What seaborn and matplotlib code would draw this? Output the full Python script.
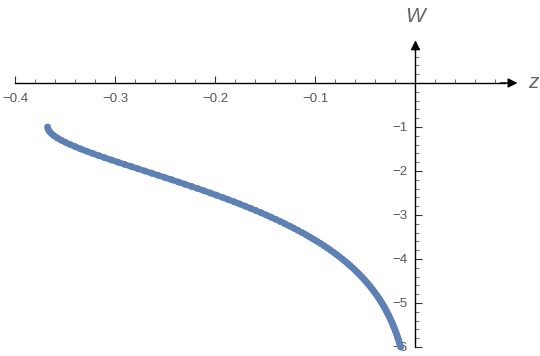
import matplotlib
matplotlib.use("Agg")
import matplotlib.pyplot as plt
from matplotlib.ticker import FixedLocator
import seaborn as sns
import pandas as pd

# Data: branch W_{-1}, points (z, W)
w_values = [-1.00, -1.05, -1.10, -1.15, -1.20, -1.25, -1.30, -1.35, -1.40, -1.45,
            -1.50, -1.55, -1.60, -1.65, -1.70, -1.75, -1.80, -1.85, -1.90, -1.95,
            -2.00, -2.05, -2.10, -2.15, -2.20, -2.25, -2.30, -2.35, -2.40, -2.45,
            -2.50, -2.55, -2.60, -2.65, -2.70, -2.75, -2.80, -2.85, -2.90, -2.95,
            -3.00, -3.05, -3.10, -3.15, -3.20, -3.25, -3.30, -3.35, -3.40, -3.45,
            -3.50, -3.55, -3.60, -3.65, -3.70, -3.75, -3.80, -3.85, -3.90, -3.95,
            -4.00, -4.05, -4.10, -4.15, -4.20, -4.25, -4.30, -4.35, -4.40, -4.45,
            -4.50, -4.55, -4.60, -4.65, -4.70, -4.75, -4.80, -4.85, -4.90, -4.95,
            -5.00, -5.05, -5.10, -5.15, -5.20, -5.25, -5.30, -5.35, -5.40, -5.45,
            -5.50, -5.55, -5.60, -5.65, -5.70, -5.75, -5.80, -5.85, -5.90, -5.95,
            -6.00]
z_values = [-0.36788, -0.36743, -0.36616, -0.36413, -0.36143, -0.35813, -0.35429, -0.34997, -0.34524, -0.34013,
            -0.33470, -0.32898, -0.32304, -0.31688, -0.31056, -0.30411, -0.29754, -0.29089, -0.28418, -0.27743,
            -0.27067, -0.26391, -0.25716, -0.25044, -0.24377, -0.23715, -0.23060, -0.22412, -0.21772, -0.21142,
            -0.20521, -0.19911, -0.19311, -0.18723, -0.18146, -0.17580, -0.17027, -0.16486, -0.15957, -0.15440,
            -0.14936, -0.14445, -0.13965, -0.13498, -0.13044, -0.12602, -0.12171, -0.11753, -0.11347, -0.10952,
            -0.10569, -0.10197, -0.09837, -0.09487, -0.09148, -0.08819, -0.08501, -0.08193, -0.07894, -0.07606,
            -0.07326, -0.07056, -0.06795, -0.06542, -0.06298, -0.06062, -0.05835, -0.05615, -0.05402, -0.05197,
            -0.04999, -0.04808, -0.04624, -0.04446, -0.04275, -0.04110, -0.03950, -0.03797, -0.03649, -0.03506,
            -0.03369, -0.03237, -0.03110, -0.02987, -0.02869, -0.02755, -0.02646, -0.02540, -0.02439, -0.02341,
            -0.02248, -0.02157, -0.02071, -0.01988, -0.01907, -0.01830, -0.01756, -0.01685, -0.01616, -0.01551,
            -0.01487]

x_major = [-0.4, -0.3, -0.2, -0.1]
x_labels = ["\u22120.4", "\u22120.3", "\u22120.2", "\u22120.1"]
y_major = [-1, -2, -3, -4, -5, -6]
y_labels = ["\u22121", "\u22122", "\u22123", "\u22124", "\u22125", "\u22126"]

sns.set_style("white")
plt.rcParams["font.family"] = ["Liberation Sans", "DejaVu Sans"]

df = pd.DataFrame({"z": z_values, "W": w_values})
point_color = "#5E81B5"

fig = plt.figure(figsize=(5.4, 3.56), dpi=100)
ax = fig.add_axes([0, 0, 1, 1])
sns.lineplot(data=df, x="z", y="W", ax=ax, sort=False, color=point_color,
             linewidth=4.4, solid_capstyle="round", zorder=3, estimator=None)
sns.scatterplot(data=df, x="z", y="W", ax=ax, color=point_color, s=24,
                edgecolor="none", linewidth=0, zorder=4, clip_on=False)

ax.set_xlim(-0.4155, 0.1245)
ax.set_ylim(-6.205, 1.886)

for side in ["top", "right"]:
    ax.spines[side].set_visible(False)
ax.spines["left"].set_position(("data", 0))
ax.spines["bottom"].set_position(("data", 0))
ax.spines["bottom"].set_bounds(-0.4, 0.09)
ax.spines["left"].set_bounds(-6.0, 0.85)
for side in ["left", "bottom"]:
    ax.spines[side].set_color("black")
    ax.spines[side].set_linewidth(1.0)

# arrow heads
ax.annotate("", xy=(0.102, 0), xytext=(0.085, 0),
            arrowprops=dict(arrowstyle="-|>", color="black", lw=1.0,
                            mutation_scale=14, shrinkA=0, shrinkB=0))
ax.annotate("", xy=(0, 0.97), xytext=(0, 0.75),
            arrowprops=dict(arrowstyle="-|>", color="black", lw=1.0,
                            mutation_scale=14, shrinkA=0, shrinkB=0))

ax.xaxis.set_major_locator(FixedLocator(x_major))
ax.set_xticklabels(x_labels)
ax.xaxis.set_minor_locator(FixedLocator(
    [-0.38, -0.36, -0.34, -0.32, -0.28, -0.26, -0.24, -0.22, -0.18, -0.16,
     -0.14, -0.12, -0.08, -0.06, -0.04, -0.02, 0.02, 0.04, 0.06, 0.08]))
ax.yaxis.set_major_locator(FixedLocator(y_major))
ax.set_yticklabels(y_labels)
minor_y = []
for k in range(-30, 5):
    v = k * 0.2
    if abs(v - round(v)) > 1e-6:
        minor_y.append(v)
ax.yaxis.set_minor_locator(FixedLocator(minor_y))

ax.tick_params(axis="both", which="major", direction="in", length=5,
               width=0.8, color="#333333", labelsize=9.5, labelcolor="#555555")
ax.tick_params(axis="both", which="minor", direction="in", length=3,
               width=0.6, color="#555555")
ax.tick_params(axis="x", which="major", pad=7)
ax.tick_params(axis="y", which="major", pad=6)
ax.tick_params(left=True, bottom=True, which="both")

ax.set_xlabel("")
ax.set_ylabel("")
ax.text(0.1235, 0, "z", fontsize=15, style="italic", color="#666666",
        ha="right", va="center")
ax.text(0, 1.52, "W", fontsize=15, style="italic", color="#666666",
        ha="center", va="center")

fig.savefig("out.png", dpi=100)
